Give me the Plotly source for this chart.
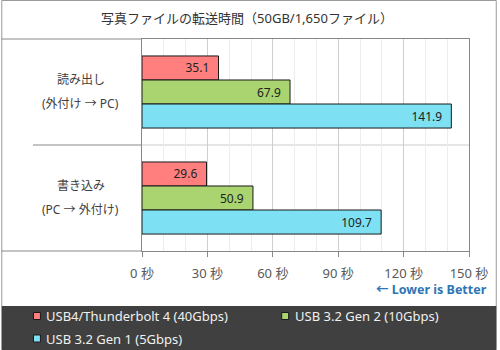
import plotly.graph_objects as go

# ---- data ----
categories = ['読み出し', '書き込み']
category_sub = ['(外付け → PC)', '(PC → 外付け)']
series_names = ['USB4/Thunderbolt 4 (40Gbps)', 'USB 3.2 Gen 2 (10Gbps)', 'USB 3.2 Gen 1 (5Gbps)']
usb4_tb4 = [35.1, 29.6]
usb32_gen2 = [67.9, 50.9]
usb32_gen1 = [141.9, 109.7]
tick_vals = [0, 30, 60, 90, 120, 150]
tick_text = ['0 秒', '30 秒', '60 秒', '90 秒', '120 秒', '150 秒']
title_text = '写真ファイルの転送時間（50GB/1,650ファイル）'
note_text = '← Lower is Better'

# ---- style ----
colors = ['#FF7F7F', '#A9D46F', '#7DE1F3']
FONT = 'Noto Sans, Noto Sans CJK JP, sans-serif'
W, H = 500, 350
L, R, T, B = 142, 472, 39, 251


def px(x):
    return (x - L) / (R - L)


def py(y):
    return (B - y) / (B - T)


fig = go.Figure()
for name, vals, c in zip(series_names, [usb4_tb4, usb32_gen2, usb32_gen1], colors):
    fig.add_trace(go.Bar(
        x=vals, y=categories, orientation='h', name=name,
        marker=dict(color=c, line=dict(color='#1a1a1a', width=1)),
        texttemplate='%{x:.1f}\u00a0\u00a0', textposition='inside',
        insidetextanchor='end', textangle=0,
        textfont=dict(size=12, color='#222222', family=FONT),
        showlegend=False,
    ))

shapes = [
    # whole image border
    dict(type='rect', xref='paper', yref='paper', x0=px(0.5), x1=px(499.5), y0=py(349.5), y1=py(0.5),
         line=dict(color='#9a9a9a', width=1), layer='below'),
    # legend band
    dict(type='rect', xref='paper', yref='paper', x0=px(0.5), x1=px(499.5), y0=py(350), y1=py(306),
         fillcolor='#404040', line=dict(width=0)),
    # frame extensions to the left
    dict(type='line', xref='paper', yref='paper', x0=px(0), x1=0, y0=1, y1=1,
         line=dict(color='#888888', width=1)),
    dict(type='line', xref='paper', yref='paper', x0=px(0), x1=0, y0=0, y1=0,
         line=dict(color='#888888', width=1)),
    # category divider
    dict(type='line', xref='paper', yref='y', x0=px(32), x1=0, y0=0.5, y1=0.5,
         line=dict(color='#888888', width=1)),
    dict(type='line', xref='paper', yref='y', x0=0, x1=1, y0=0.5, y1=0.5,
         line=dict(color='#cccccc', width=1), layer='below'),
]

annotations = []
for cat, sub in zip(categories, category_sub):
    annotations.append(dict(text=cat, xref='paper', yref='y', x=px(80), y=cat, yshift=13,
                            xanchor='center', yanchor='middle', showarrow=False,
                            font=dict(size=12, color='#404040', family=FONT)))
    annotations.append(dict(text=sub, xref='paper', yref='y', x=px(80), y=cat, yshift=-11,
                            xanchor='center', yanchor='middle', showarrow=False,
                            font=dict(size=12, color='#404040', family=FONT)))

annotations.append(dict(text='<b>' + note_text + '</b>', xref='paper', yref='paper',
                        x=px(492), y=py(289), xanchor='right', yanchor='middle', showarrow=False,
                        font=dict(size=12.5, color='#2E75B6', family=FONT)))

# custom legend
leg_pos = [(36, 316, 43), (286.5, 316, 294), (36, 338.5, 43)]
for name, c, (cx, cy, tx) in zip(series_names, colors, leg_pos):
    shapes.append(dict(type='rect', xref='paper', yref='paper', x0=px(cx - 3.5), x1=px(cx + 3.5),
                       y0=py(cy + 3.5), y1=py(cy - 3.5), fillcolor=c,
                       line=dict(color='#1a1a1a', width=1)))
    annotations.append(dict(text=name, xref='paper', yref='paper', x=px(tx), y=py(cy),
                            xanchor='left', yanchor='middle', showarrow=False,
                            font=dict(size=13, color='#f0f0f0', family=FONT)))

fig.update_layout(
    width=W, height=H,
    margin=dict(l=L, r=W - R, t=T, b=H - B, pad=0),
    paper_bgcolor='white', plot_bgcolor='white',
    barmode='group', bargap=0.32, bargroupgap=0,
    title=dict(text=title_text, x=0.494, xanchor='center', y=1 - 18 / H, yanchor='middle',
               font=dict(size=13, color='#333333', family=FONT)),
    font=dict(family=FONT),
    shapes=shapes, annotations=annotations,
    xaxis=dict(range=[0, 150], tickvals=tick_vals, ticktext=tick_text,
               showgrid=True, gridcolor='#cfcfcf', gridwidth=1,
               minor=dict(dtick=10, tick0=0, showgrid=True, gridcolor='#ededed', ticks=''),
               ticks='outside', ticklen=5, tickcolor='#888888',
               showline=True, linecolor='#888888', linewidth=1, mirror=True,
               tickfont=dict(size=13, color='#595959', family=FONT), ticklabelstandoff=5,
               zeroline=False, fixedrange=True),
    yaxis=dict(range=[1.5, -0.5], showticklabels=False, showgrid=False, zeroline=False,
               showline=True, linecolor='#888888', linewidth=1, mirror=True, ticks=''),
)

fig.write_html('out.html')
